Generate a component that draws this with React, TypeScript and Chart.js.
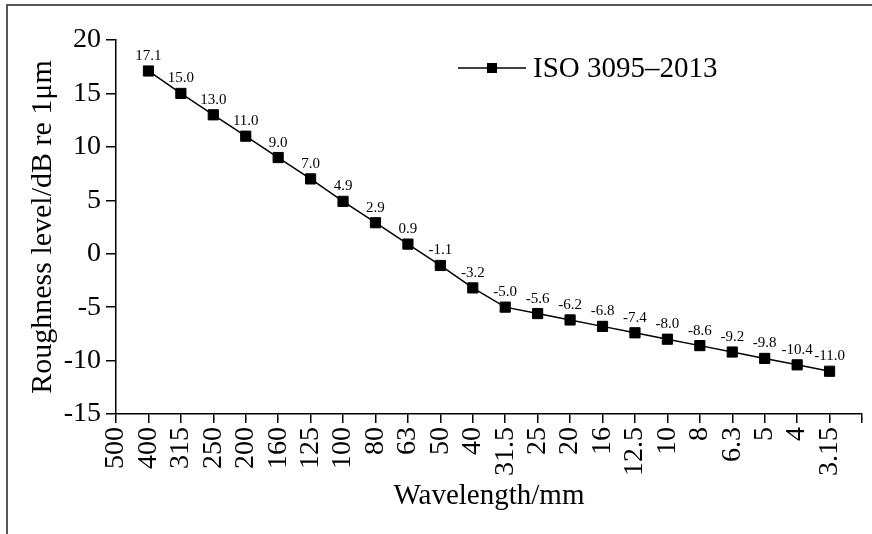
import React, { useEffect, useRef } from 'react';
import { Chart, registerables } from 'chart.js';

Chart.register(...registerables);

const wavelengths = ['500', '400', '315', '250', '200', '160', '125', '100', '80', '63', '50', '40', '31.5', '25', '20', '16', '12.5', '10', '8', '6.3', '5', '4', '3.15'];
const roughness: (number | null)[] = [null, 17.1, 15.0, 13.0, 11.0, 9.0, 7.0, 4.9, 2.9, 0.9, -1.1, -3.2, -5.0, -5.6, -6.2, -6.8, -7.4, -8.0, -8.6, -9.2, -9.8, -10.4, -11.0];
const yMin = -15;
const yMax = 20;
const yStep = 5;
const seriesName = 'ISO 3095–2013';
const xTitle = 'Wavelength/mm';
const yTitle = 'Roughness level/dB re 1μm';

const FONT = '"Liberation Serif", "Times New Roman", Times, serif';

const valueLabels = {
  id: 'valueLabels',
  afterDatasetsDraw(chart: any) {
    const ctx = chart.ctx;
    const meta = chart.getDatasetMeta(0);
    const data = chart.data.datasets[0].data as (number | null)[];
    ctx.save();
    ctx.font = `15px ${FONT}`;
    ctx.fillStyle = '#000';
    ctx.textAlign = 'center';
    ctx.textBaseline = 'alphabetic';
    meta.data.forEach((pt: any, i: number) => {
      const v = data[i];
      if (v === null || v === undefined) return;
      ctx.fillText(v.toFixed(1), pt.x, pt.y - 11);
    });
    ctx.restore();
  },
};

const customLegend = {
  id: 'customLegend',
  afterDraw(chart: any) {
    const ctx = chart.ctx;
    const y = 68;
    ctx.save();
    ctx.strokeStyle = '#000';
    ctx.lineWidth = 1.5;
    ctx.beginPath();
    ctx.moveTo(458, y);
    ctx.lineTo(526, y);
    ctx.stroke();
    ctx.fillStyle = '#000';
    ctx.fillRect(487, y - 5, 10, 10);
    ctx.font = `29px ${FONT}`;
    ctx.textAlign = 'left';
    ctx.textBaseline = 'alphabetic';
    ctx.fillText(seriesName, 533, 77);
    ctx.restore();
  },
};

export default function App() {
  const canvasRef = useRef<HTMLCanvasElement | null>(null);

  useEffect(() => {
    if (!canvasRef.current) return;
    const labels = [...wavelengths, ''];
    const data = [...roughness, null];
    const chart = new Chart(canvasRef.current, {
      type: 'line',
      data: {
        labels,
        datasets: [
          {
            label: seriesName,
            data,
            borderColor: '#000',
            borderWidth: 1.5,
            backgroundColor: '#000',
            pointStyle: 'rect',
            pointRadius: 7.2,
            pointBorderWidth: 1,
            pointBackgroundColor: '#000',
            pointBorderColor: '#000',
            tension: 0,
            spanGaps: false,
          },
        ],
      },
      options: {
        responsive: false,
        animation: false,
        layout: { padding: { top: 40, right: 10, left: 0, bottom: 0 } },
        plugins: {
          legend: { display: false },
          tooltip: { enabled: false },
        },
        scales: {
          x: {
            type: 'category',
            offset: false,
            border: { display: true, color: '#000', width: 1.5 },
            grid: {
              display: true,
              drawOnChartArea: false,
              drawTicks: true,
              tickLength: 9,
              color: '#000',
              lineWidth: 1.5,
            },
            ticks: {
              autoSkip: false,
              maxRotation: 90,
              minRotation: 90,
              padding: 4,
              color: '#000',
              font: { family: FONT, size: 28 },
            },
            title: {
              display: true,
              text: xTitle,
              color: '#000',
              font: { family: FONT, size: 29 },
              padding: { top: 0, bottom: 20 },
            },
            afterFit(scale: any) {
              scale.height = 120;
              scale.paddingLeft = 0;
              scale.paddingRight = 0;
            },
          },
          y: {
            type: 'linear',
            min: yMin,
            max: yMax,
            border: { display: true, color: '#000', width: 1.5 },
            grid: {
              display: true,
              drawOnChartArea: false,
              drawTicks: true,
              tickLength: 10,
              color: '#000',
              lineWidth: 1.5,
            },
            ticks: {
              stepSize: yStep,
              padding: 5,
              color: '#000',
              font: { family: FONT, size: 28 },
            },
            title: {
              display: true,
              text: yTitle,
              color: '#000',
              font: { family: FONT, size: 30 },
              padding: { top: 25, bottom: 0 },
            },
            afterFit(scale: any) {
              scale.width = 116;
              scale.paddingTop = 0;
              scale.paddingBottom = 0;
            },
          },
        },
      } as any,
      plugins: [valueLabels, customLegend],
    });
    return () => chart.destroy();
  }, []);

  return (
    <div style={{ position: 'fixed', left: 0, top: 0, width: 872, height: 534, background: '#fff', overflow: 'hidden' }}>
      <div
        style={{
          position: 'absolute',
          left: 6,
          top: 4,
          right: -10,
          bottom: -10,
          borderTop: '2px solid #555',
          borderLeft: '2px solid #555',
        }}
      />
      <canvas
        ref={canvasRef}
        width={872}
        height={534}
        style={{ position: 'absolute', left: 0, top: 0, display: 'block', width: 872, height: 534 }}
      />
    </div>
  );
}
